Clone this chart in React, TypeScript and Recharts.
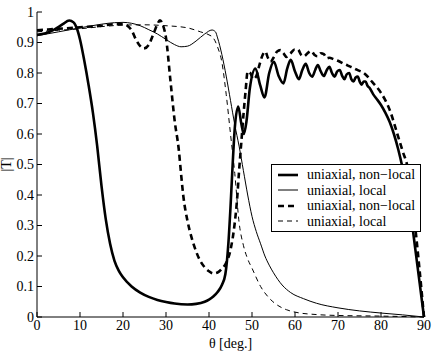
import { Legend, Line, LineChart, XAxis, YAxis } from 'recharts'

// theta ticks / |T| ticks
const xTicks = [0, 10, 20, 30, 40, 50, 60, 70, 80, 90]
const yTicks = [0, 0.1, 0.2, 0.3, 0.4, 0.5, 0.6, 0.7, 0.8, 0.9, 1]

// uniaxial, non-local (thick solid)
const thetaNonLocalA = [
  0, 2, 4, 6, 7.5, 8.5, 9.3, 10, 11, 12, 13, 14, 15, 16, 17, 18, 19, 20, 22, 24, 26, 28, 30, 32, 35, 37,
  39, 40, 41, 42, 43, 43.8, 44.5, 45, 45.5, 46, 46.8, 47.5, 48.1, 48.7, 49.5, 50.8, 51.9, 52.9, 54, 55.1,
  56.2, 57.3, 58.2, 59, 60, 60.9, 61.7, 62.5, 63.3, 64, 64.7, 65.3, 66, 66.7, 67.4, 68, 68.6, 69.2, 69.8,
  70.4, 71, 71.5, 72, 72.6, 73.1, 73.6, 74.1, 74.6, 75.1, 75.5, 76, 76.4, 76.9, 77.3, 78.2, 79, 80, 81, 82,
  83, 84, 85, 86, 87, 88, 89, 90,
]
const tNonLocalA = [
  0.925, 0.93, 0.942, 0.96, 0.972, 0.966, 0.945, 0.91, 0.84, 0.76, 0.67, 0.56, 0.43, 0.32, 0.24, 0.185,
  0.152, 0.13, 0.1, 0.08, 0.066, 0.056, 0.049, 0.044, 0.041, 0.043, 0.05, 0.057, 0.067, 0.082, 0.105, 0.14,
  0.24, 0.36, 0.5, 0.62, 0.69, 0.635, 0.6, 0.64, 0.75, 0.815, 0.76, 0.72, 0.8, 0.837, 0.79, 0.766, 0.815,
  0.843, 0.805, 0.78, 0.81, 0.83, 0.8, 0.788, 0.81, 0.826, 0.805, 0.79, 0.81, 0.82, 0.8, 0.788, 0.805, 0.81,
  0.79, 0.78, 0.795, 0.8, 0.78, 0.772, 0.785, 0.788, 0.77, 0.762, 0.772, 0.772, 0.757, 0.752, 0.73, 0.715,
  0.695, 0.67, 0.64, 0.6, 0.55, 0.49, 0.42, 0.33, 0.22, 0.11, 0,
]

// uniaxial, local (thin solid)
const thetaLocalA = [
  0, 5, 10, 15, 18, 20, 22, 24, 26, 28, 30, 32, 33.5, 35, 37, 39, 40.7, 41.5, 42, 43, 44, 45, 46, 47, 48,
  49, 50, 51, 52, 53, 54, 55, 57, 59, 62, 65, 70, 75, 80, 85, 90,
]
const tLocalA = [
  0.922, 0.935, 0.948, 0.96, 0.965, 0.966, 0.963, 0.955, 0.942, 0.928, 0.91, 0.893, 0.886, 0.888, 0.905,
  0.928, 0.941, 0.935, 0.915, 0.86, 0.79, 0.71, 0.63, 0.56, 0.48, 0.4, 0.33, 0.28, 0.24, 0.2, 0.17, 0.145,
  0.105, 0.08, 0.06, 0.045, 0.03, 0.02, 0.013, 0.007, 0,
]

// uniaxial, non-local (thick dashed)
const thetaNonLocalB = [
  0, 5, 10, 15, 18, 20, 21, 22, 23, 24, 24.8, 26, 27, 28, 28.6, 29.2, 30, 31, 32, 33, 33.5, 34, 35, 36, 37,
  38, 39, 40, 41, 42, 43, 44, 45, 46, 46.5, 47, 47.5, 48, 48.5, 49, 49.6, 50.3, 51, 51.8, 52.5, 53.1, 53.7,
  54.3, 55, 55.8, 56.6, 57.3, 58, 59, 59.9, 60.7, 61.4, 62.1, 63, 63.8, 64.5, 65.2, 66, 66.7, 67.4, 68, 69,
  70, 71.4, 73, 74.5, 76, 78, 80, 82, 83.8, 85, 86.2, 87, 88, 89, 90,
]
const tNonLocalB = [
  0.94, 0.945, 0.95, 0.955, 0.96, 0.96, 0.955, 0.94, 0.91, 0.888, 0.88, 0.893, 0.925, 0.96, 0.973, 0.96,
  0.915, 0.78, 0.645, 0.545, 0.47, 0.4, 0.315, 0.258, 0.215, 0.183, 0.163, 0.15, 0.143, 0.146, 0.158, 0.178,
  0.22, 0.31, 0.38, 0.48, 0.57, 0.66, 0.74, 0.805, 0.8, 0.78, 0.79, 0.83, 0.86, 0.87, 0.85, 0.837, 0.85,
  0.87, 0.875, 0.865, 0.853, 0.865, 0.877, 0.877, 0.86, 0.855, 0.866, 0.872, 0.86, 0.855, 0.865, 0.862,
  0.848, 0.85, 0.845, 0.84, 0.83, 0.82, 0.81, 0.8, 0.77, 0.735, 0.68, 0.6, 0.545, 0.49, 0.42, 0.29, 0.15, 0,
]

// uniaxial, local (thin dashed)
const thetaLocalB = [
  0, 5, 10, 15, 20, 25, 30, 35, 38, 40, 41, 42, 43, 44, 45, 46, 47, 48, 49, 50, 52, 54, 56, 58, 60, 65, 70,
  80, 90,
]
const tLocalB = [
  0.935, 0.94, 0.945, 0.952, 0.957, 0.958, 0.955, 0.948, 0.935, 0.925, 0.915, 0.885, 0.835, 0.73, 0.6,
  0.47, 0.31, 0.235, 0.19, 0.16, 0.1, 0.062, 0.038, 0.024, 0.016, 0.008, 0.005, 0.003, 0,
]

const toPoints = (theta: number[], t: number[]) => theta.map((x, i) => ({ theta: x, t: t[i] }))

const series = [
  { key: 'nlA', name: 'uniaxial, non\u2212local', data: toPoints(thetaNonLocalA, tNonLocalA), width: 2.6, dash: undefined },
  { key: 'lA', name: 'uniaxial, local', data: toPoints(thetaLocalA, tLocalA), width: 1, dash: undefined },
  { key: 'nlB', name: 'uniaxial, non\u2212local', data: toPoints(thetaNonLocalB, tNonLocalB), width: 2.6, dash: '6 4' },
  { key: 'lB', name: 'uniaxial, local', data: toPoints(thetaLocalB, tLocalB), width: 1, dash: '5 4' },
]

const font = 'Liberation Serif, Tinos, DejaVu Serif, Times, serif'
const tickStyle = { fontSize: 14, fill: '#000', fontFamily: font, style: { fontFamily: font } }

function LegendBox() {
  return (
    <div
      style={{
        background: '#fff',
        border: '1px solid #000',
        padding: '2px 6px 2px 6px',
        fontFamily: font,
        fontSize: 14,
        lineHeight: '15.5px',
        color: '#000',
      }}
    >
      {series.map((s) => (
        <div key={s.key} style={{ display: 'flex', alignItems: 'center', height: 15.5 }}>
          <svg width={20} height={10} style={{ flex: 'none' }}>
            <line x1={0} x2={20} y1={5} y2={5} stroke="#000" strokeWidth={s.width} strokeDasharray={s.dash} />
          </svg>
          <span style={{ marginLeft: 9, whiteSpace: 'nowrap', fontFamily: font }}>{s.name}</span>
        </div>
      ))}
    </div>
  )
}

export default function App() {
  return (
    <div style={{ position: 'absolute', left: 0, top: 0, background: '#fff', fontFamily: font }}>
      <LineChart
        width={436}
        height={351}
        margin={{ top: 12, right: 12, bottom: 0, left: 0 }}
        style={{ fontFamily: font }}
      >
        <XAxis
          dataKey="theta"
          type="number"
          domain={[0, 90]}
          ticks={xTicks}
          height={34}
          tick={tickStyle}
          tickSize={-5}
          tickMargin={8}
          axisLine={{ stroke: '#000' }}
          tickLine={{ stroke: '#000' }}
          label={{ value: '\u03b8 [deg.]', position: 'insideBottom', offset: 3, fontSize: 14, fill: '#000', fontFamily: font }}
        />
        <XAxis
          xAxisId="top"
          orientation="top"
          type="number"
          domain={[0, 90]}
          ticks={xTicks}
          height={0}
          tickFormatter={() => ''}
          tickSize={-5}
          axisLine={{ stroke: '#000' }}
          tickLine={{ stroke: '#000' }}
        />
        <YAxis
          type="number"
          domain={[0, 1]}
          ticks={yTicks}
          width={37}
          tick={tickStyle}
          tickSize={-5}
          tickMargin={8}
          axisLine={{ stroke: '#000' }}
          tickLine={{ stroke: '#000' }}
          label={{
            content: (p: any) => {
              const vb = p.viewBox || {}
              const cx = 6
              const cy = (vb.y ?? 12) + (vb.height ?? 305) / 2
              return (
                <text
                  x={cx}
                  y={cy}
                  transform={`rotate(-90 ${cx} ${cy})`}
                  textAnchor="middle"
                  dominantBaseline="central"
                  fontSize={14}
                  fontFamily={font}
                  fill="#000"
                >
                  |T|
                </text>
              )
            },
          }}
        />
        <YAxis
          yAxisId="right"
          orientation="right"
          type="number"
          domain={[0, 1]}
          ticks={yTicks}
          width={0}
          tickFormatter={() => ''}
          tickSize={-5}
          axisLine={{ stroke: '#000' }}
          tickLine={{ stroke: '#000' }}
        />
        {series.map((s) => (
          <Line
            key={s.key}
            data={s.data}
            dataKey="t"
            name={s.name}
            type="monotone"
            stroke="#000"
            strokeWidth={s.width}
            strokeDasharray={s.dash}
            dot={false}
            activeDot={false}
            isAnimationActive={false}
          />
        ))}
        <Legend
          layout="vertical"
          align="center"
          verticalAlign="middle"
          wrapperStyle={{ left: 271, top: 164, width: 150 }}
          content={() => <LegendBox />}
        />
      </LineChart>
    </div>
  )
}
